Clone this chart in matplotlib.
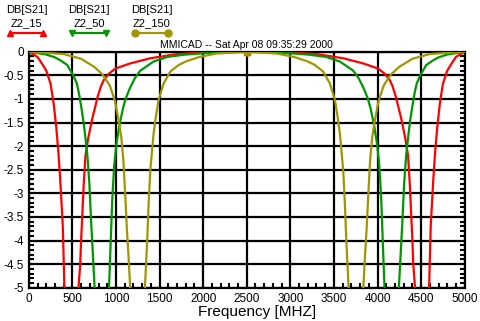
import matplotlib
matplotlib.use("Agg")
import matplotlib.pyplot as plt
from matplotlib.lines import Line2D
from matplotlib.ticker import MultipleLocator

plt.rcParams['font.family'] = ['Liberation Sans', 'DejaVu Sans']

# ================== DATA ==================
red_freq = [0, 100, 150, 200, 250, 285, 315, 340, 360, 375, 390, 400, 408, 420, 490,
            558, 570, 590, 600, 615, 630, 650, 680, 705, 730, 760, 790, 830, 860, 910,
            990, 1160, 1390, 1700, 2000, 2500,
            3000, 3300, 3610, 3840, 4010, 4090, 4140, 4170, 4210, 4240, 4270, 4295, 4320,
            4350, 4370, 4385, 4400, 4410, 4430, 4442, 4510, 4580, 4592, 4600, 4610, 4625,
            4640, 4660, 4685, 4715, 4750, 4800, 4850, 4900, 5000]
red_db = [0, -0.11, -0.25, -0.4, -0.68, -1.1, -1.6, -2.15, -2.7, -3.2, -3.7, -4.4, -5, -8, -30,
          -8, -5, -4.5, -4.0, -3.4, -2.8, -2.2, -1.85, -1.62, -1.4, -1.18, -0.95, -0.72, -0.6, -0.48,
          -0.36, -0.25, -0.14, -0.05, -0.02, 0,
          -0.02, -0.05, -0.14, -0.25, -0.36, -0.48, -0.6, -0.72, -0.95, -1.18, -1.4, -1.62, -1.85,
          -2.2, -2.8, -3.4, -4.0, -4.5, -5, -8, -30, -8, -5, -4.4, -3.7, -3.2,
          -2.7, -2.15, -1.6, -1.1, -0.68, -0.4, -0.25, -0.11, 0]

green_freq = [0, 200, 300, 360, 440, 510, 550, 575, 600, 625, 645, 672, 695, 715, 735, 755,
              770, 840, 905, 920, 940, 958, 980, 1008, 1040, 1080, 1110, 1160, 1220, 1280,
              1430, 1590, 1800, 2100, 2500,
              2900, 3200, 3410, 3570, 3720, 3780, 3840, 3890, 3920, 3960, 3992, 4020, 4042,
              4060, 4080, 4095, 4160, 4230, 4245, 4265, 4285, 4305, 4328, 4355, 4375, 4400,
              4425, 4450, 4490, 4560, 4640, 4700, 4800, 5000]
green_db = [0, -0.06, -0.12, -0.18, -0.28, -0.5, -0.67, -0.88, -1.15, -1.45, -1.75, -2.2, -2.8, -3.6, -4.3, -5,
            -8, -30, -8, -5, -4.0, -3.1, -2.4, -1.92, -1.55, -1.2, -1.0, -0.77, -0.55, -0.4,
            -0.21, -0.11, -0.06, -0.02, 0,
            -0.02, -0.06, -0.11, -0.21, -0.4, -0.55, -0.77, -1.0, -1.2, -1.55, -1.92, -2.4, -3.1,
            -4.0, -5, -8, -30, -8, -5, -4.3, -3.6, -2.8, -2.2, -1.75, -1.45, -1.15,
            -0.88, -0.67, -0.5, -0.28, -0.18, -0.12, -0.06, 0]

olive_freq = [0, 250, 400, 600, 750, 850, 930, 990, 1030, 1060, 1085, 1105, 1125, 1143, 1163,
              1178, 1247, 1318, 1332, 1358, 1375, 1394, 1432, 1460, 1489, 1547, 1624, 1720,
              1810, 1960, 2150, 2500,
              2850, 3040, 3190, 3280, 3376, 3453, 3511, 3540, 3568, 3606, 3625, 3642, 3668,
              3682, 3753, 3822, 3837, 3857, 3875, 3895, 3915, 3940, 3970, 4010, 4070, 4150,
              4250, 4400, 4600, 4750, 5000]
olive_db = [0, -0.03, -0.05, -0.15, -0.32, -0.49, -0.72, -1.06, -1.45, -1.8, -2.3, -3.0, -3.75, -4.3, -5,
            -8, -30, -8, -5, -4.0, -3.2, -2.5, -1.73, -1.35, -1.02, -0.67, -0.42, -0.28,
            -0.2, -0.11, -0.04, 0,
            -0.04, -0.11, -0.2, -0.28, -0.42, -0.67, -1.02, -1.35, -1.73, -2.5, -3.2, -4.0, -5,
            -8, -30, -8, -5, -4.3, -3.75, -3.0, -2.3, -1.8, -1.45, -1.06, -0.72, -0.49,
            -0.32, -0.15, -0.05, -0.03, 0]

series_names = ["Z2_15", "Z2_50", "Z2_150"]
x_ticks = [0, 500, 1000, 1500, 2000, 2500, 3000, 3500, 4000, 4500, 5000]
y_ticks = [0, -0.5, -1, -1.5, -2, -2.5, -3, -3.5, -4, -4.5, -5]
y_labels = ["0", "-0.5", "-1", "-1.5", "-2", "-2.5", "-3", "-3.5", "-4", "-4.5", "-5"]

RED = "#ff0000"
GREEN = "#009600"
OLIVE = "#a09600"

# ================== PLOT ==================
fig = plt.figure(figsize=(4.81, 3.21), dpi=100)
W, H = 481, 321
ax = fig.add_axes([28.8 / W, 1 - 287.7 / H, (464.7 - 28.8) / W, (287.7 - 51.7) / H])

curves = [
    (red_freq, red_db, RED, "^"),
    (green_freq, green_db, GREEN, "v"),
    (olive_freq, olive_db, OLIVE, "o"),
]
for freq, db, color, mk in curves:
    ax.plot(freq, db, color=color, lw=1.6, marker=mk, markersize=5,
            markevery=[freq.index(2500)], zorder=3)

ax.set_xlim(0, 5000)
ax.set_ylim(-5, 0)
ax.set_xticks(x_ticks)
ax.set_xticklabels([str(t) for t in x_ticks])
ax.set_yticks(y_ticks)
ax.set_yticklabels(y_labels)
ax.xaxis.set_minor_locator(MultipleLocator(100))
ax.yaxis.set_minor_locator(MultipleLocator(0.1))
ax.grid(True, which="major", color="black", lw=1.6)
ax.tick_params(which="major", length=0, labelsize=8.5, pad=3.5)
ax.tick_params(which="minor", direction="in", length=3.5, width=1.5,
               left=True, right=True, bottom=True, top=False)
for sp in ax.spines.values():
    sp.set_linewidth(1.6)

ax.set_xlabel("Frequency [MHZ]", fontsize=11)
ax.xaxis.set_label_coords(0.5235, -0.072)
fig.text(246.7 / W, 1 - 45 / H, "MMICAD -- Sat Apr 08 09:35:29 2000",
         ha="center", va="center", fontsize=7.5)

# ===== LEGEND (top-left) =====
legend_x = [(10, 43), (72, 106), (135, 168)]
for (x0, x1), (_, _, color, mk), name in zip(legend_x, curves, series_names):
    cx = (x0 + x1) / 2
    fig.text(cx / W, 1 - 10 / H, "DB[S21]", ha="center", va="center", fontsize=8)
    fig.text(cx / W, 1 - 23 / H, name, ha="center", va="center", fontsize=8)
    fig.add_artist(Line2D([x0 / W, x1 / W], [1 - 33 / H, 1 - 33 / H],
                          transform=fig.transFigure, color=color, lw=1.6,
                          marker=mk, markersize=5))

fig.savefig("out.png", dpi=100)
